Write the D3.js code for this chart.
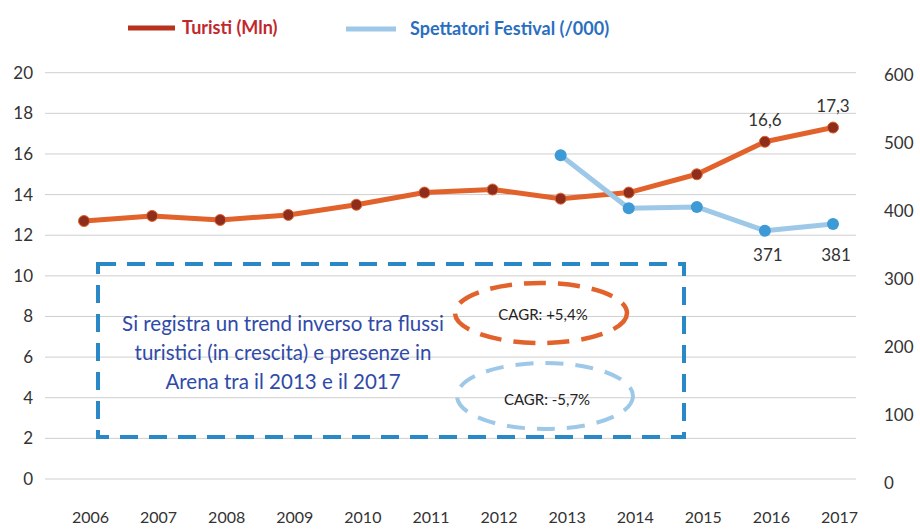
<!DOCTYPE html>
<html>
<head>
<meta charset="utf-8">
<script src="https://cdn.jsdelivr.net/npm/d3@7/dist/d3.min.js"></script>
<style>
  html, body { margin: 0; padding: 0; background: #fff; }
  svg { display: block; font-family: Lato, "Open Sans", sans-serif; }
</style>
</head>
<body>
<svg id="chart" width="920" height="531"></svg>
<script>
// Years on the x axis
const years = [2006, 2007, 2008, 2009, 2010, 2011, 2012, 2013, 2014, 2015, 2016, 2017];
// Tourists, millions (left axis)
const turisti = [12.7, 12.95, 12.75, 13.0, 13.5, 14.1, 14.25, 13.8, 14.1, 15.0, 16.6, 17.3];
// Festival spectators, thousands (right axis), available from 2013
const spettatoriYears = [2013, 2014, 2015, 2016, 2017];
const spettatori = [482, 404, 406, 371, 381];
// Axis ticks
const leftTicks = [0, 2, 4, 6, 8, 10, 12, 14, 16, 18, 20];
const rightTicks = [0, 100, 200, 300, 400, 500, 600];
// Values printed next to points
const labelTuristi = { 2016: "16,6", 2017: "17,3" };
const labelSpett = { 2016: "371", 2017: "381" };
// Annotation text
const noteLines = [
  "Si registra un trend inverso tra flussi",
  "turistici (in crescita) e presenze in",
  "Arena tra il 2013 e il 2017"
];
const cagrTuristi = "CAGR: +5,4%";
const cagrSpett = "CAGR: -5,7%";

const svg = d3.select("#chart");
const orange = "#e2622b", orangeDot = "#8e2d1c";
const blueLine = "#9ec8e8", blueDot = "#3d9ad6";

const x = d3.scalePoint().domain(years).range([84, 833]);
const yL = d3.scaleLinear().domain([0, 20]).range([479, 72.7]);
const yR = d3.scaleLinear().domain([0, 600]).range([483, 75]);

// Gridlines
svg.append("g").selectAll("line").data(leftTicks).join("line")
  .attr("x1", 45).attr("x2", 856)
  .attr("y1", d => yL(d)).attr("y2", d => yL(d))
  .attr("stroke", "#cfcfcf").attr("stroke-width", 1);

// Left axis labels
const axL = svg.append("g").attr("transform", "translate(33,0)")
  .call(d3.axisLeft(yL).tickValues(leftTicks).tickSize(0).tickPadding(0));
axL.select(".domain").remove();
axL.selectAll("text").attr("font-size", 17).attr("fill", "#333").attr("font-family", "Lato, sans-serif");

// Right axis labels
const axR = svg.append("g").attr("transform", "translate(884,0)")
  .call(d3.axisRight(yR).tickValues(rightTicks).tickSize(0).tickPadding(0));
axR.select(".domain").remove();
axR.selectAll("text").attr("font-size", 17).attr("fill", "#333").attr("font-family", "Lato, sans-serif");

// Bottom axis labels
const axB = svg.append("g").attr("transform", "translate(6,512)")
  .call(d3.axisBottom(x).tickSize(0).tickPadding(0).tickFormat(d3.format("d")));
axB.select(".domain").remove();
axB.selectAll("text").attr("font-size", 16).attr("fill", "#333").attr("font-family", "Lato, sans-serif");

// Tourists series
const lineL = d3.line().x((d, i) => x(years[i])).y(d => yL(d));
svg.append("path").datum(turisti).attr("d", lineL)
  .attr("fill", "none").attr("stroke", orange).attr("stroke-width", 5).attr("stroke-linejoin", "round");
svg.append("g").selectAll("circle").data(turisti).join("circle")
  .attr("cx", (d, i) => x(years[i])).attr("cy", d => yL(d)).attr("r", 5.5)
  .attr("fill", orangeDot).attr("stroke", orange).attr("stroke-width", 1);

// Spectators series
const lineR = d3.line().x((d, i) => x(spettatoriYears[i])).y(d => yR(d));
svg.append("path").datum(spettatori).attr("d", lineR)
  .attr("fill", "none").attr("stroke", blueLine).attr("stroke-width", 5).attr("stroke-linejoin", "round");
svg.append("g").selectAll("circle").data(spettatori).join("circle")
  .attr("cx", (d, i) => x(spettatoriYears[i])).attr("cy", d => yR(d)).attr("r", 6)
  .attr("fill", blueDot);

// Point value labels
years.forEach((yr, i) => {
  if (labelTuristi[yr]) {
    svg.append("text").attr("x", x(yr)).attr("y", yL(turisti[i]) - 16)
      .attr("text-anchor", "middle").attr("font-size", 17).attr("fill", "#333").text(labelTuristi[yr]);
  }
});
spettatoriYears.forEach((yr, i) => {
  if (labelSpett[yr]) {
    svg.append("text").attr("x", x(yr) + 3).attr("y", 261)
      .attr("text-anchor", "middle").attr("font-size", 17).attr("fill", "#333").text(labelSpett[yr]);
  }
});

// Legend
const legend = svg.append("g").attr("font-weight", "bold").attr("font-size", 18);
legend.append("line").attr("x1", 128).attr("x2", 175).attr("y1", 28).attr("y2", 28)
  .attr("stroke", "#b8321e").attr("stroke-width", 5);
legend.append("text").attr("x", 182).attr("y", 34).attr("fill", "#c0282d").text("Turisti (Mln)");
legend.append("line").attr("x1", 346).attr("x2", 396).attr("y1", 29).attr("y2", 29)
  .attr("stroke", blueLine).attr("stroke-width", 5);
legend.append("text").attr("x", 410).attr("y", 35).attr("fill", "#2a6fbf").text("Spettatori Festival (/000)");

// Annotation box
svg.append("rect").attr("x", 98).attr("y", 264).attr("width", 586).attr("height", 173)
  .attr("fill", "none").attr("stroke", "#2a88c6").attr("stroke-width", 4)
  .attr("stroke-dasharray", "18,11");
svg.append("g").selectAll("text").data(noteLines).join("text")
  .attr("x", 283).attr("y", (d, i) => 331 + i * 29)
  .attr("text-anchor", "middle").attr("font-size", 20.5).attr("fill", "#2f4aa8").text(d => d);

// CAGR ellipses
svg.append("ellipse").attr("cx", 541).attr("cy", 313).attr("rx", 86).attr("ry", 30)
  .attr("fill", "none").attr("stroke", orange).attr("stroke-width", 4.5).attr("stroke-dasharray", "22,12");
svg.append("text").attr("x", 543).attr("y", 320).attr("text-anchor", "middle")
  .attr("font-size", 15).attr("fill", "#222").text(cagrTuristi);
svg.append("ellipse").attr("cx", 545).attr("cy", 396).attr("rx", 88).attr("ry", 33)
  .attr("fill", "none").attr("stroke", blueLine).attr("stroke-width", 4).attr("stroke-dasharray", "18,12");
svg.append("text").attr("x", 547).attr("y", 405).attr("text-anchor", "middle")
  .attr("font-size", 15).attr("fill", "#222").text(cagrSpett);
</script>
</body>
</html>
